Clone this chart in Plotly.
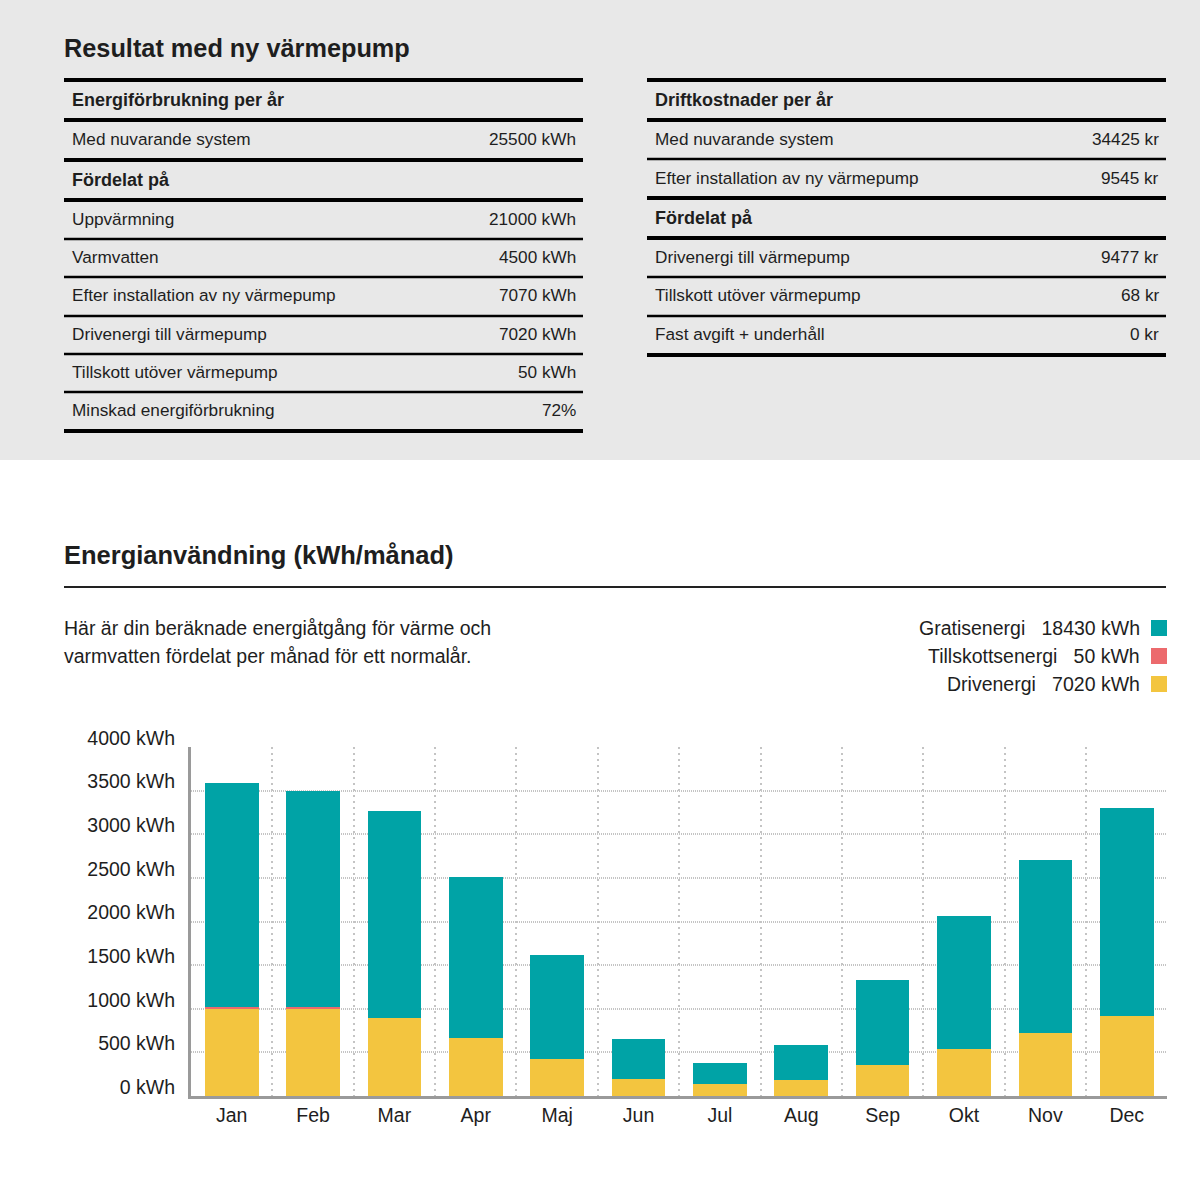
import plotly.graph_objects as go

# ---------------- data ----------------
months = ["Jan", "Feb", "Mar", "Apr", "Maj", "Jun", "Jul", "Aug", "Sep", "Okt", "Nov", "Dec"]
drivenergi = [1000, 995, 895, 665, 425, 195, 135, 185, 350, 535, 725, 915]
tillskott = [25, 25, 0, 0, 0, 0, 0, 0, 0, 0, 0, 0]
gratisenergi = [2565, 2480, 2375, 1850, 1195, 455, 240, 395, 975, 1530, 1980, 2390]

y_tickvals = [0, 500, 1000, 1500, 2000, 2500, 3000, 3500, 4000]
y_ticktext = ["0 kWh", "500 kWh", "1000 kWh", "1500 kWh", "2000 kWh",
              "2500 kWh", "3000 kWh", "3500 kWh", "4000 kWh"]

left_labels = ["Energiförbrukning per år", "Med nuvarande system", "Fördelat på",
               "Uppvärmning", "Varmvatten", "Efter installation av ny värmepump",
               "Drivenergi till värmepump", "Tillskott utöver värmepump",
               "Minskad energiförbrukning"]
left_values = ["", "25500 kWh", "", "21000 kWh", "4500 kWh", "7070 kWh",
               "7020 kWh", "50 kWh", "72%"]
left_bold = [True, False, True, False, False, False, False, False, False]

right_labels = ["Driftkostnader per år", "Med nuvarande system",
                "Efter installation av ny värmepump", "Fördelat på",
                "Drivenergi till värmepump", "Tillskott utöver värmepump",
                "Fast avgift + underhåll"]
right_values = ["", "34425 kr", "9545 kr", "", "9477 kr", "68 kr", "0 kr"]
right_bold = [True, False, False, True, False, False, False]

legend_names = ["Gratisenergi", "Tillskottsenergi", "Drivenergi"]
legend_totals = [sum(gratisenergi), sum(tillskott), sum(drivenergi)]

title_top = "Resultat med ny värmepump"
title_chart = "Energianvändning (kWh/månad)"
desc_lines = ["Här är din beräknade energiåtgång för värme och",
              "varmvatten fördelat per månad för ett normalår."]

# ---------------- style ----------------
C_TEAL = "#00a3a6"
C_RED = "#ec6a6d"
C_YEL = "#f3c53f"
TXT = "#1e1e1e"
FONT = "Liberation Sans, Arial, sans-serif"

W, H = 1200, 1198
PL, PR, PT, PB = 191, 1167, 747, 1096  # plot area in pixels


def px(x):
    return (x - PL) / (PR - PL)


def py(y):
    return (PB - y) / (PB - PT)


fig = go.Figure()
fig.add_trace(go.Bar(x=months, y=drivenergi, name="Drivenergi", marker_color=C_YEL,
                     marker_line_width=0))
fig.add_trace(go.Bar(x=months, y=tillskott, name="Tillskottsenergi", marker_color=C_RED,
                     marker_line_width=0))
fig.add_trace(go.Bar(x=months, y=gratisenergi, name="Gratisenergi", marker_color=C_TEAL,
                     marker_line_width=0))

shapes = []
annotations = []

# grey top panel
shapes.append(dict(type="rect", xref="paper", yref="paper", x0=px(0), x1=px(W),
                   y0=py(0), y1=py(460), fillcolor="#e8e8e8", line_width=0, layer="below"))


def add_text(x, y, text, size, bold=False, xanchor="left", color=TXT):
    annotations.append(dict(xref="paper", yref="paper", x=px(x), y=py(y),
                            text=f"<b>{text}</b>" if bold else text, showarrow=False,
                            xanchor=xanchor, yanchor="middle", borderpad=0, borderwidth=0,
                            font=dict(family=FONT, size=size, color=color)))


def hline(x0, x1, y, w, color="#000000"):
    shapes.append(dict(type="line", xref="paper", yref="paper", x0=px(x0), x1=px(x1),
                       y0=py(y), y1=py(y), line=dict(color=color, width=w)))


add_text(64, 48, title_top, 25.3, bold=True)

# left table
left_row_y = [100, 139, 180, 219, 257, 295, 334, 372, 410]
left_line_y = [80, 120, 160, 200, 239, 277, 316, 354, 392, 431]
left_line_w = [4, 4, 4, 4, 2.5, 2.5, 2.5, 2.5, 2.5, 4]
for y, w in zip(left_line_y, left_line_w):
    hline(64, 583, y, w)
for lab, val, b, y in zip(left_labels, left_values, left_bold, left_row_y):
    add_text(72, y, lab, 18 if b else 17.2, bold=b)
    if val:
        add_text(576, y, val, 17.2, xanchor="right")

# right table
right_row_y = [100, 139, 178, 218, 257, 295, 334]
right_line_y = [80, 120, 159, 198, 238, 277, 316, 355]
right_line_w = [4, 4, 2.5, 4, 4, 2.5, 2.5, 4]
for y, w in zip(right_line_y, right_line_w):
    hline(647, 1166, y, w)
for lab, val, b, y in zip(right_labels, right_values, right_bold, right_row_y):
    add_text(655, y, lab, 18 if b else 17.2, bold=b)
    if val:
        add_text(1159, y, val, 17.2, xanchor="right")

# chart header
add_text(64, 555, title_chart, 25.5, bold=True)
hline(64, 1166, 587, 2, color="#222222")
add_text(64, 628, desc_lines[0], 19.5)
add_text(64, 656, desc_lines[1], 19.5)

# custom legend (swatch on the right)
leg_colors = [C_TEAL, C_RED, C_YEL]
leg_y = [628, 656, 684]
for name, tot, col, y in zip(legend_names, legend_totals, leg_colors, leg_y):
    add_text(1140, y, f"{name}\u00a0\u00a0\u00a0{tot} kWh", 19.5, xanchor="right")
    shapes.append(dict(type="rect", xref="paper", yref="paper", x0=px(1151), x1=px(1167),
                       y0=py(y - 8), y1=py(y + 8), fillcolor=col, line_width=0))

fig.update_layout(
    width=W, height=H,
    margin=dict(l=PL, r=W - PR, t=PT, b=H - PB, pad=0),
    paper_bgcolor="white", plot_bgcolor="white",
    barmode="stack", bargap=0.34, showlegend=False,
    font=dict(family=FONT, size=19.5, color=TXT),
    shapes=shapes, annotations=annotations,
)
fig.update_xaxes(
    type="category", range=[-0.5, 11.495], tickson="boundaries", showgrid=True,
    gridcolor="#c4c4c4", griddash="2px,4px", gridwidth=1.5,
    showline=True, linecolor="#9a9a9a", linewidth=3,
    ticks="outside", ticklen=5, tickcolor="rgba(0,0,0,0)",
    tickfont=dict(family=FONT, size=19.5, color=TXT), fixedrange=True,
)
fig.update_yaxes(
    range=[0, 4000], tickvals=y_tickvals, ticktext=y_ticktext,
    showgrid=True, gridcolor="#c4c4c4", griddash="1px,1px", gridwidth=1.5,
    zeroline=False, showline=True, linecolor="#9a9a9a", linewidth=3,
    ticks="outside", ticklen=7, tickcolor="rgba(0,0,0,0)",
    ticklabelshift=-9, ticklabelstandoff=2,
    tickfont=dict(family=FONT, size=19.5, color=TXT), fixedrange=True,
)

fig.write_html("out.html", config={"displayModeBar": False},
               post_script="document.body.style.margin='0';")
